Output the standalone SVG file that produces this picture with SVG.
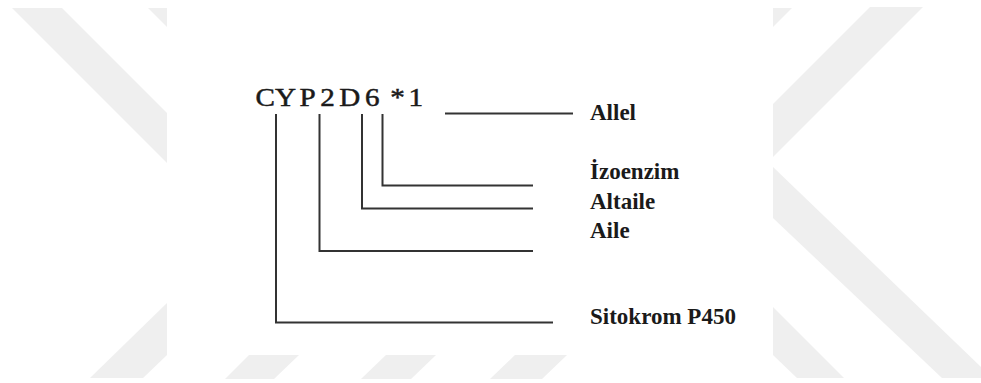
<svg xmlns="http://www.w3.org/2000/svg" width="981" height="383" viewBox="0 0 981 383">
<style>
.wm{fill:#efefef;stroke:none}
.code{font-family:"Liberation Serif","Times New Roman",serif;font-size:26px;fill:#1a1a1a;stroke:#1a1a1a;stroke-width:0.5}
.lbl{font-family:"Liberation Serif","Times New Roman",serif;font-size:23px;font-weight:bold;fill:#1a1a1a}
.ln{fill:none;stroke:#333333;stroke-width:2;stroke-linecap:square;stroke-linejoin:miter}
</style>
<rect x="0" y="0" width="981" height="383" fill="#ffffff"/>
<g id="watermark">
<polygon class="wm" points="12,8 62,8 167,113 167,163"/>
<polygon class="wm" points="148,8 167,8 167,27"/>
<polygon class="wm" points="90,378 143,378 167,355 167,303"/>
<polygon class="wm" points="249,355 299,355 274,379 225,379"/>
<polygon class="wm" points="386,355 436,355 411,379 361,379"/>
<polygon class="wm" points="515,355 567,355 542,379 490,379"/>
<polygon class="wm" points="870,7 923,7 773,157 773,104"/>
<polygon class="wm" points="773,8 792,8 773,27"/>
<polygon class="wm" points="773,167 981,367 981,378 942,378 773,218"/>
<polygon class="wm" points="773,307 844,378 797,378 773,355"/>
<rect x="167" y="13" width="606" height="342" fill="#ffffff"/>
</g>
<g id="connectors">
<path class="ln" d="M446,113.5 H572"/>
<path class="ln" d="M382.5,115 V185.5 H532"/>
<path class="ln" d="M362,115 V208.5 H532"/>
<path class="ln" d="M319.5,115 V251 H532"/>
<path class="ln" d="M276,115 V322.5 H552"/>
</g>
<g id="node-code">
<text class="code" transform="scale(1.12 1)" y="106"><tspan x="228.2">C</tspan><tspan x="245.5">Y</tspan><tspan x="267.5">P</tspan><tspan x="286">2</tspan><tspan x="303">D</tspan><tspan x="326">6</tspan><tspan x="348.5">*</tspan><tspan x="364.7">1</tspan></text>
</g>
<g id="node-allel"><text class="lbl" x="590" y="120">Allel</text></g>
<g id="node-izoenzim"><text class="lbl" x="590" y="178.5">İzoenzim</text></g>
<g id="node-altaile"><text class="lbl" x="590" y="208.5">Altaile</text></g>
<g id="node-aile"><text class="lbl" x="590" y="237.5">Aile</text></g>
<g id="node-sitokrom"><text class="lbl" x="590" y="323.5">Sitokrom P450</text></g>
</svg>
